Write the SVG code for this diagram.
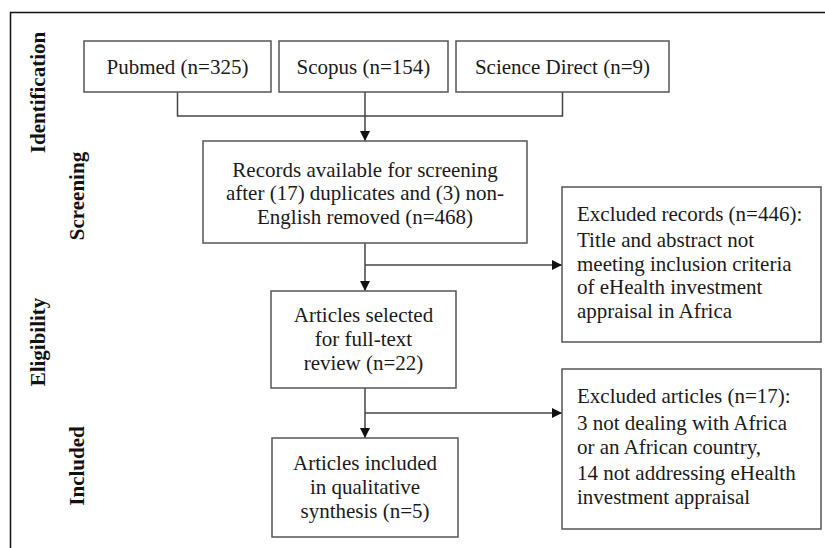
<svg xmlns="http://www.w3.org/2000/svg" width="825" height="548" viewBox="0 0 825 548">
<style>
.box{fill:#fff;stroke:#555;stroke-width:1.5}
.t{font-family:"Liberation Serif","Times New Roman",serif;font-size:21px;fill:#1a1a1a}
.c{text-anchor:middle}
.lab{font-family:"Liberation Serif","Times New Roman",serif;font-size:21px;font-weight:bold;fill:#111;text-anchor:middle}
.ln{fill:none;stroke:#444;stroke-width:1.5}
</style>
<defs>
<marker id="ah" viewBox="0 0 10 10" refX="10" refY="5" markerWidth="10" markerHeight="10" markerUnits="userSpaceOnUse" orient="auto">
<path d="M0,0 L10,5 L0,10 Z" fill="#111"/>
</marker>
</defs>
<rect width="825" height="548" fill="#fff"/>
<rect x="10.5" y="12.5" width="830" height="560" fill="none" stroke="#111" stroke-width="1.5"/>
<g id="phase-labels">
<text class="lab" transform="translate(45,92.5) rotate(-90)">Identification</text>
<text class="lab" transform="translate(84,196) rotate(-90)">Screening</text>
<text class="lab" transform="translate(45,342) rotate(-90)">Eligibility</text>
<text class="lab" transform="translate(84,466) rotate(-90)">Included</text>
</g>
<g id="connectors">
<path class="ln" d="M177.5,92 V116 H562.5 V92"/>
<path class="ln" d="M365,92 V141" marker-end="url(#ah)"/>
<path class="ln" d="M365,243 V291" marker-end="url(#ah)"/>
<path class="ln" d="M365,265 H562" marker-end="url(#ah)"/>
<path class="ln" d="M365,388 V438" marker-end="url(#ah)"/>
<path class="ln" d="M365,413 H562" marker-end="url(#ah)"/>
</g>
<g id="pubmed">
<rect class="box" x="84" y="41" width="187" height="51"/>
<text class="t c" x="177.5" y="74">Pubmed (n=325)</text>
</g>
<g id="scopus">
<rect class="box" x="279" y="41" width="169" height="51"/>
<text class="t c" x="363.5" y="74">Scopus (n=154)</text>
</g>
<g id="sciencedirect">
<rect class="box" x="456" y="41" width="213" height="51"/>
<text class="t c" x="562.5" y="74">Science Direct (n=9)</text>
</g>
<g id="records">
<rect class="box" x="203" y="141" width="324" height="102"/>
<text class="t c" x="365" y="177">Records available for screening</text>
<text class="t c" x="365" y="200">after (17) duplicates and (3) non-</text>
<text class="t c" x="365" y="223.5">English removed (n=468)</text>
</g>
<g id="excluded-records">
<rect class="box" x="562" y="187" width="259" height="155"/>
<text class="t" x="577" y="221">Excluded records (n=446):</text>
<text class="t" x="577" y="247">Title and abstract not</text>
<text class="t" x="577" y="270.5">meeting inclusion criteria</text>
<text class="t" x="577" y="294">of eHealth investment</text>
<text class="t" x="577" y="317.5">appraisal in Africa</text>
</g>
<g id="fulltext">
<rect class="box" x="271" y="291" width="185" height="97"/>
<text class="t c" x="363.5" y="322">Articles selected</text>
<text class="t c" x="363.5" y="346">for full-text</text>
<text class="t c" x="363.5" y="370">review (n=22)</text>
</g>
<g id="included">
<rect class="box" x="272" y="438" width="186" height="99"/>
<text class="t c" x="365" y="470">Articles included</text>
<text class="t c" x="365" y="494">in qualitative</text>
<text class="t c" x="365" y="518">synthesis (n=5)</text>
</g>
<g id="excluded-articles">
<rect class="box" x="562" y="369" width="259" height="160"/>
<text class="t" x="577" y="403">Excluded articles (n=17):</text>
<text class="t" x="577" y="430">3 not dealing with Africa</text>
<text class="t" x="577" y="453.5">or an African country,</text>
<text class="t" x="577" y="480">14 not addressing eHealth</text>
<text class="t" x="577" y="503.5">investment appraisal</text>
</g>
</svg>
